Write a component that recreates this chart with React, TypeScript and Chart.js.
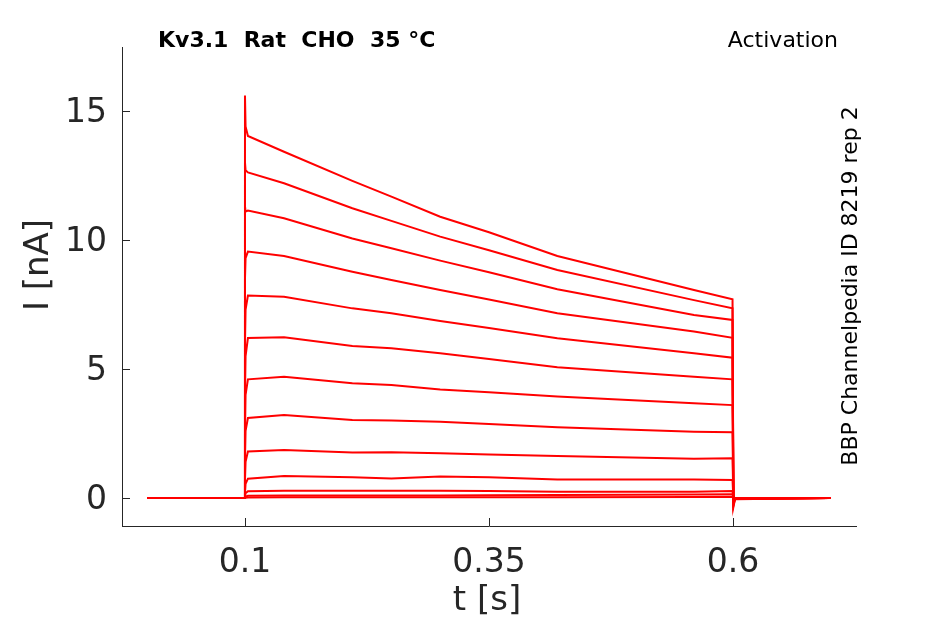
import React, { useEffect, useRef } from 'react';
import { Chart, registerables } from 'chart.js';

Chart.register(...registerables);

// sample times (s) shared by all sweeps
const times = [0, 0.0998, 0.1, 0.1006, 0.103, 0.14, 0.21, 0.25, 0.3, 0.35, 0.42, 0.56, 0.5995, 0.6004, 0.602, 0.7];

// current (nA) of each activation sweep, largest first
const sweep1 = [0, 0, 15.6, 14.4, 14.03, 13.42, 12.29, 11.68, 10.9, 10.3, 9.38, 8.06, 7.7, -0.35, -0.05, 0];
const sweep2 = [0, 0, 13.0, 12.7, 12.62, 12.2, 11.23, 10.74, 10.13, 9.6, 8.84, 7.67, 7.35, -0.3, -0.04, 0];
const sweep3 = [0, 0, 11.3, 11.1, 11.14, 10.84, 10.06, 9.68, 9.2, 8.75, 8.09, 7.09, 6.9, -0.25, -0.03, 0];
const sweep4 = [0, 0, 8.5, 9.3, 9.55, 9.38, 8.77, 8.45, 8.06, 7.69, 7.16, 6.45, 6.21, -0.2, -0.03, 0];
const sweep5 = [0, 0, 6.0, 7.3, 7.85, 7.8, 7.35, 7.16, 6.86, 6.59, 6.19, 5.61, 5.44, -0.18, -0.02, 0];
const sweep6 = [0, 0, 4.0, 5.5, 6.2, 6.23, 5.89, 5.8, 5.61, 5.39, 5.07, 4.7, 4.6, -0.15, -0.02, 0];
const sweep7 = [0, 0, 2.5, 4.0, 4.6, 4.7, 4.45, 4.38, 4.21, 4.1, 3.93, 3.67, 3.6, -0.12, -0.02, 0];
const sweep8 = [0, 0, 1.5, 2.6, 3.1, 3.22, 3.02, 3.0, 2.96, 2.87, 2.74, 2.57, 2.55, -0.1, -0.01, 0];
const sweep9 = [0, 0, 0.7, 1.4, 1.8, 1.86, 1.76, 1.77, 1.73, 1.69, 1.63, 1.52, 1.54, -0.08, 0, 0];
const sweep10 = [0, 0, 0.2, 0.55, 0.75, 0.85, 0.8, 0.76, 0.83, 0.8, 0.72, 0.72, 0.7, -0.05, 0, 0];
const sweep11 = [0, 0, 0.05, 0.18, 0.26, 0.28, 0.28, 0.28, 0.28, 0.27, 0.24, 0.24, 0.27, -0.03, 0, 0];
const sweep12 = [0, 0, 0.02, 0.06, 0.09, 0.1, 0.1, 0.1, 0.1, 0.11, 0.12, 0.14, 0.15, -0.02, 0, 0];
const sweep13 = [0, 0, 0, 0.01, 0.02, 0.03, 0.03, 0.03, 0.03, 0.03, 0.03, 0.04, 0.04, 0, 0, 0];

const sweeps = [sweep1, sweep2, sweep3, sweep4, sweep5, sweep6, sweep7, sweep8, sweep9, sweep10, sweep11, sweep12, sweep13];

const xTicks = [0.1, 0.35, 0.6];
const yTicks = [0, 5, 10, 15];

const titleText = 'Kv3.1  Rat  CHO  35 °C';
const protocolText = 'Activation';
const sourceText = 'BBP Channelpedia ID 8219 rep 2';
const xTitle = 't [s]';
const yTitle = 'I [nA]';

const FONT = '"DejaVu Sans", sans-serif';
const AXIS = '#262626';

// texts around the axes and MATLAB-style inward tick marks
const overlay = {
  id: 'overlay',
  afterDraw(chart) {
    const { ctx, chartArea, scales } = chart;
    ctx.save();
    ctx.strokeStyle = AXIS;
    ctx.lineWidth = 1;
    ctx.beginPath();
    xTicks.forEach((v) => {
      const x = Math.round(scales.x.getPixelForValue(v)) + 0.5;
      ctx.moveTo(x, chartArea.bottom);
      ctx.lineTo(x, chartArea.bottom - 8);
    });
    yTicks.forEach((v) => {
      const y = Math.round(scales.y.getPixelForValue(v)) + 0.5;
      ctx.moveTo(chartArea.left, y);
      ctx.lineTo(chartArea.left + 8, y);
    });
    ctx.stroke();

    ctx.fillStyle = '#000';
    ctx.textBaseline = 'alphabetic';
    ctx.font = `bold 22px ${FONT}`;
    ctx.textAlign = 'left';
    ctx.fillText(titleText, 158, 47);
    ctx.font = `22px ${FONT}`;
    ctx.textAlign = 'right';
    ctx.fillText(protocolText, 838, 47);

    ctx.save();
    ctx.translate(857, 286);
    ctx.rotate(-Math.PI / 2);
    ctx.textAlign = 'center';
    ctx.fillText(sourceText, 0, 0);
    ctx.restore();

    ctx.fillStyle = AXIS;
    ctx.font = `34px ${FONT}`;
    ctx.textAlign = 'center';
    ctx.fillText(xTitle, 487, 610);
    ctx.save();
    ctx.translate(48, 265);
    ctx.rotate(-Math.PI / 2);
    ctx.fillText(yTitle, 0, 0);
    ctx.restore();
    ctx.restore();
  },
};

export default function App() {
  const canvasRef = useRef(null);
  const chartRef = useRef(null);

  useEffect(() => {
    if (!canvasRef.current) return;
    if (chartRef.current) chartRef.current.destroy();

    chartRef.current = new Chart(canvasRef.current.getContext('2d'), {
      type: 'line',
      data: {
        datasets: sweeps.map((s, i) => ({
          label: `sweep ${i + 1}`,
          data: times.map((t, j) => ({ x: t, y: s[j] })),
          borderColor: '#ff0000',
          borderWidth: 2,
          pointRadius: 0,
          tension: 0,
          fill: false,
        })),
      },
      options: {
        animation: false,
        responsive: false,
        devicePixelRatio: 1,
        layout: { padding: { left: 0, top: 47, right: 89, bottom: 0 } },
        plugins: { legend: { display: false }, tooltip: { enabled: false } },
        scales: {
          x: {
            type: 'linear',
            min: -0.026,
            max: 0.726,
            afterFit: (s) => { s.height = 98; },
            afterBuildTicks: (s) => { s.ticks = xTicks.map((v) => ({ value: v })); },
            grid: { display: false, drawTicks: false },
            border: { display: true, color: AXIS, width: 1 },
            ticks: {
              padding: 18,
              color: AXIS,
              font: { family: FONT, size: 33 },
              maxRotation: 0,
              callback: (v) => String(v),
            },
          },
          y: {
            type: 'linear',
            min: -1.085,
            max: 17.48,
            afterFit: (s) => { s.width = 122; },
            afterBuildTicks: (s) => { s.ticks = yTicks.map((v) => ({ value: v })); },
            grid: { display: false, drawTicks: false },
            border: { display: true, color: AXIS, width: 1 },
            ticks: {
              padding: 15,
              labelOffset: 2,
              color: AXIS,
              font: { family: FONT, size: 33 },
              callback: (v) => String(v),
            },
          },
        },
      },
      plugins: [overlay],
    });

    return () => {
      if (chartRef.current) {
        chartRef.current.destroy();
        chartRef.current = null;
      }
    };
  }, []);

  return (
    <div style={{ position: 'fixed', left: 0, top: 0, width: 945, height: 624, background: '#fff' }}>
      <canvas ref={canvasRef} width={945} height={624} />
    </div>
  );
}
